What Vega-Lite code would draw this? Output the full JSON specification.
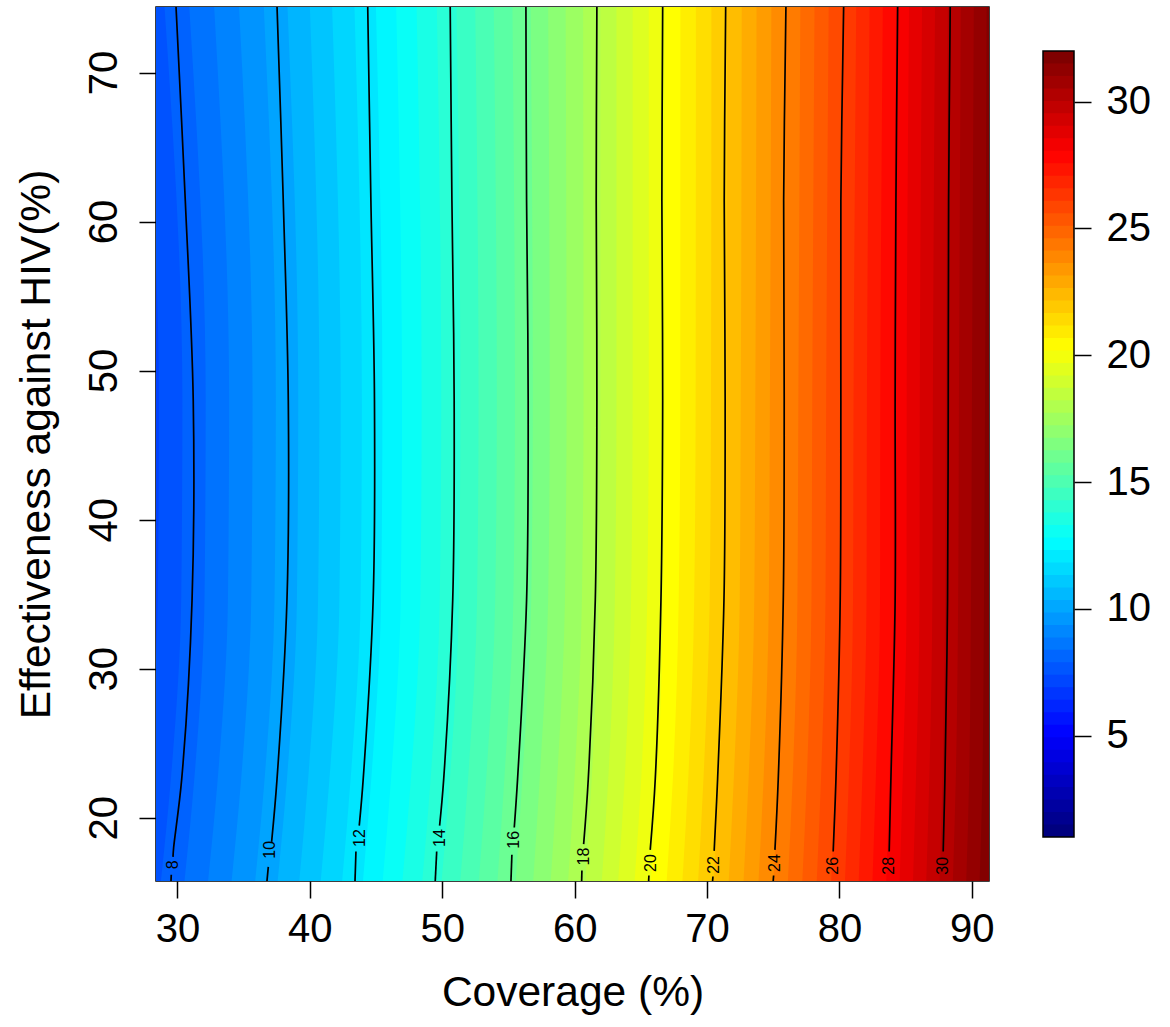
{
"$schema": "https://vega.github.io/schema/vega-lite/v6.json",
"padding": {"left": 14, "top": 6, "right": 0, "bottom": 0},
"background": "white",
"spacing": 47,
"config": {"view": {"stroke": null}, "font": "Liberation Sans"},
"datasets": {
"bands": [
{"L":6.787,"y":74.4,"x":28},{"L":6.787,"y":48,"x":28},{"L":6.787,"y":34.6,"x":28},{"L":6.787,"y":22.6,"x":28},{"L":6.787,"y":15.75,"x":28},
{"L":7.279,"y":74.4,"x":27.14},{"L":7.279,"y":48,"x":28.6},{"L":7.279,"y":34.6,"x":28.51},{"L":7.279,"y":22.6,"x":27.72},{"L":7.279,"y":15.75,"x":26.97},
{"L":7.771,"y":74.4,"x":29.02},{"L":7.771,"y":48,"x":30.37},{"L":7.771,"y":34.6,"x":30.28},{"L":7.771,"y":22.6,"x":29.5},{"L":7.771,"y":15.75,"x":28.75},
{"L":8.263,"y":74.4,"x":30.89},{"L":8.263,"y":48,"x":32.13},{"L":8.263,"y":34.6,"x":32.04},{"L":8.263,"y":22.6,"x":31.27},{"L":8.263,"y":15.75,"x":30.53},
{"L":8.755,"y":74.4,"x":32.77},{"L":8.755,"y":48,"x":33.9},{"L":8.755,"y":34.6,"x":33.81},{"L":8.755,"y":22.6,"x":33.04},{"L":8.755,"y":15.75,"x":32.31},
{"L":9.247,"y":74.4,"x":34.65},{"L":9.247,"y":48,"x":35.67},{"L":9.247,"y":34.6,"x":35.57},{"L":9.247,"y":22.6,"x":34.81},{"L":9.247,"y":15.75,"x":34.09},
{"L":9.739,"y":74.4,"x":36.52},{"L":9.739,"y":48,"x":37.43},{"L":9.739,"y":34.6,"x":37.33},{"L":9.739,"y":22.6,"x":36.58},{"L":9.739,"y":15.75,"x":35.87},
{"L":10.231,"y":74.4,"x":38.31},{"L":10.231,"y":48,"x":39.12},{"L":10.231,"y":34.6,"x":39.02},{"L":10.231,"y":22.6,"x":38.27},{"L":10.231,"y":15.75,"x":37.57},
{"L":10.723,"y":74.4,"x":40.0},{"L":10.723,"y":48,"x":40.72},{"L":10.723,"y":34.6,"x":40.62},{"L":10.723,"y":22.6,"x":39.87},{"L":10.723,"y":15.75,"x":39.2},
{"L":11.215,"y":74.4,"x":41.68},{"L":11.215,"y":48,"x":42.33},{"L":11.215,"y":34.6,"x":42.23},{"L":11.215,"y":22.6,"x":41.48},{"L":11.215,"y":15.75,"x":40.82},
{"L":11.707,"y":74.4,"x":43.37},{"L":11.707,"y":48,"x":43.93},{"L":11.707,"y":34.6,"x":43.83},{"L":11.707,"y":22.6,"x":43.08},{"L":11.707,"y":15.75,"x":42.44},
{"L":12.199,"y":74.4,"x":44.99},{"L":12.199,"y":48,"x":45.48},{"L":12.199,"y":34.6,"x":45.38},{"L":12.199,"y":22.6,"x":44.64},{"L":12.199,"y":15.75,"x":44.01},
{"L":12.691,"y":74.4,"x":46.52},{"L":12.691,"y":48,"x":46.96},{"L":12.691,"y":34.6,"x":46.86},{"L":12.691,"y":22.6,"x":46.13},{"L":12.691,"y":15.75,"x":45.5},
{"L":13.183,"y":74.4,"x":48.06},{"L":13.183,"y":48,"x":48.44},{"L":13.183,"y":34.6,"x":48.34},{"L":13.183,"y":22.6,"x":47.63},{"L":13.183,"y":15.75,"x":46.99},
{"L":13.675,"y":74.4,"x":49.59},{"L":13.675,"y":48,"x":49.92},{"L":13.675,"y":34.6,"x":49.81},{"L":13.675,"y":22.6,"x":49.12},{"L":13.675,"y":15.75,"x":48.49},
{"L":14.167,"y":74.4,"x":51.08},{"L":14.167,"y":48,"x":51.37},{"L":14.167,"y":34.6,"x":51.26},{"L":14.167,"y":22.6,"x":50.58},{"L":14.167,"y":15.75,"x":49.95},
{"L":14.659,"y":74.4,"x":52.49},{"L":14.659,"y":48,"x":52.74},{"L":14.659,"y":34.6,"x":52.63},{"L":14.659,"y":22.6,"x":51.95},{"L":14.659,"y":15.75,"x":51.36},
{"L":15.151,"y":74.4,"x":53.89},{"L":15.151,"y":48,"x":54.12},{"L":15.151,"y":34.6,"x":54.0},{"L":15.151,"y":22.6,"x":53.32},{"L":15.151,"y":15.75,"x":52.76},
{"L":15.643,"y":74.4,"x":55.3},{"L":15.643,"y":48,"x":55.49},{"L":15.643,"y":34.6,"x":55.37},{"L":15.643,"y":22.6,"x":54.69},{"L":15.643,"y":15.75,"x":54.17},
{"L":16.135,"y":74.4,"x":56.68},{"L":16.135,"y":48,"x":56.84},{"L":16.135,"y":34.6,"x":56.72},{"L":16.135,"y":22.6,"x":56.05},{"L":16.135,"y":15.75,"x":55.55},
{"L":16.627,"y":74.4,"x":58.0},{"L":16.627,"y":48,"x":58.12},{"L":16.627,"y":34.6,"x":58.0},{"L":16.627,"y":22.6,"x":57.36},{"L":16.627,"y":15.75,"x":56.87},
{"L":17.119,"y":74.4,"x":59.32},{"L":17.119,"y":48,"x":59.39},{"L":17.119,"y":34.6,"x":59.27},{"L":17.119,"y":22.6,"x":58.68},{"L":17.119,"y":15.75,"x":58.19},
{"L":17.611,"y":74.4,"x":60.64},{"L":17.611,"y":48,"x":60.67},{"L":17.611,"y":34.6,"x":60.55},{"L":17.611,"y":22.6,"x":59.99},{"L":17.611,"y":15.75,"x":59.51},
{"L":18.103,"y":74.4,"x":61.94},{"L":18.103,"y":48,"x":61.94},{"L":18.103,"y":34.6,"x":61.82},{"L":18.103,"y":22.6,"x":61.29},{"L":18.103,"y":15.75,"x":60.81},
{"L":18.595,"y":74.4,"x":63.16},{"L":18.595,"y":48,"x":63.16},{"L":18.595,"y":34.6,"x":63.04},{"L":18.595,"y":22.6,"x":62.54},{"L":18.595,"y":15.75,"x":62.05},
{"L":19.087,"y":74.4,"x":64.38},{"L":19.087,"y":48,"x":64.38},{"L":19.087,"y":34.6,"x":64.26},{"L":19.087,"y":22.6,"x":63.78},{"L":19.087,"y":15.75,"x":63.29},
{"L":19.579,"y":74.4,"x":65.6},{"L":19.579,"y":48,"x":65.6},{"L":19.579,"y":34.6,"x":65.48},{"L":19.579,"y":22.6,"x":65.03},{"L":19.579,"y":15.75,"x":64.53},
{"L":20.071,"y":74.4,"x":66.82},{"L":20.071,"y":48,"x":66.82},{"L":20.071,"y":34.6,"x":66.69},{"L":20.071,"y":22.6,"x":66.26},{"L":20.071,"y":15.75,"x":65.76},
{"L":20.563,"y":74.4,"x":67.99},{"L":20.563,"y":48,"x":67.98},{"L":20.563,"y":34.6,"x":67.86},{"L":20.563,"y":22.6,"x":67.42},{"L":20.563,"y":15.75,"x":66.95},
{"L":21.055,"y":74.4,"x":69.16},{"L":21.055,"y":48,"x":69.14},{"L":21.055,"y":34.6,"x":69.03},{"L":21.055,"y":22.6,"x":68.58},{"L":21.055,"y":15.75,"x":68.14},
{"L":21.547,"y":74.4,"x":70.33},{"L":21.547,"y":48,"x":70.3},{"L":21.547,"y":34.6,"x":70.2},{"L":21.547,"y":22.6,"x":69.73},{"L":21.547,"y":15.75,"x":69.33},
{"L":22.039,"y":74.4,"x":71.5},{"L":22.039,"y":48,"x":71.46},{"L":22.039,"y":34.6,"x":71.37},{"L":22.039,"y":22.6,"x":70.89},{"L":22.039,"y":15.75,"x":70.51},
{"L":22.531,"y":74.4,"x":72.62},{"L":22.531,"y":48,"x":72.55},{"L":22.531,"y":34.6,"x":72.47},{"L":22.531,"y":22.6,"x":72.02},{"L":22.531,"y":15.75,"x":71.64},
{"L":23.023,"y":74.4,"x":73.74},{"L":23.023,"y":48,"x":73.65},{"L":23.023,"y":34.6,"x":73.57},{"L":23.023,"y":22.6,"x":73.14},{"L":23.023,"y":15.75,"x":72.76},
{"L":23.515,"y":74.4,"x":74.86},{"L":23.515,"y":48,"x":74.75},{"L":23.515,"y":34.6,"x":74.67},{"L":23.515,"y":22.6,"x":74.27},{"L":23.515,"y":15.75,"x":73.89},
{"L":24.007,"y":74.4,"x":75.98},{"L":24.007,"y":48,"x":75.85},{"L":24.007,"y":34.6,"x":75.78},{"L":24.007,"y":22.6,"x":75.4},{"L":24.007,"y":15.75,"x":75.02},
{"L":24.499,"y":74.4,"x":77.05},{"L":24.499,"y":48,"x":76.9},{"L":24.499,"y":34.6,"x":76.83},{"L":24.499,"y":22.6,"x":76.47},{"L":24.499,"y":15.75,"x":76.11},
{"L":24.991,"y":74.4,"x":78.12},{"L":24.991,"y":48,"x":77.95},{"L":24.991,"y":34.6,"x":77.89},{"L":24.991,"y":22.6,"x":77.54},{"L":24.991,"y":15.75,"x":77.2},
{"L":25.483,"y":74.4,"x":79.19},{"L":25.483,"y":48,"x":79.0},{"L":25.483,"y":34.6,"x":78.95},{"L":25.483,"y":22.6,"x":78.61},{"L":25.483,"y":15.75,"x":78.29},
{"L":25.975,"y":74.4,"x":80.27},{"L":25.975,"y":48,"x":80.06},{"L":25.975,"y":34.6,"x":80.01},{"L":25.975,"y":22.6,"x":79.69},{"L":25.975,"y":15.75,"x":79.38},
{"L":26.467,"y":74.4,"x":81.27},{"L":26.467,"y":48,"x":81.07},{"L":26.467,"y":34.6,"x":81.03},{"L":26.467,"y":22.6,"x":80.71},{"L":26.467,"y":15.75,"x":80.42},
{"L":26.959,"y":74.4,"x":82.28},{"L":26.959,"y":48,"x":82.08},{"L":26.959,"y":34.6,"x":82.05},{"L":26.959,"y":22.6,"x":81.73},{"L":26.959,"y":15.75,"x":81.46},
{"L":27.451,"y":74.4,"x":83.28},{"L":27.451,"y":48,"x":83.09},{"L":27.451,"y":34.6,"x":83.07},{"L":27.451,"y":22.6,"x":82.75},{"L":27.451,"y":15.75,"x":82.5},
{"L":27.943,"y":74.4,"x":84.28},{"L":27.943,"y":48,"x":84.09},{"L":27.943,"y":34.6,"x":84.09},{"L":27.943,"y":22.6,"x":83.77},{"L":27.943,"y":15.75,"x":83.54},
{"L":28.435,"y":74.4,"x":85.26},{"L":28.435,"y":48,"x":85.08},{"L":28.435,"y":34.6,"x":85.07},{"L":28.435,"y":22.6,"x":84.78},{"L":28.435,"y":15.75,"x":84.55},
{"L":28.927,"y":74.4,"x":86.24},{"L":28.927,"y":48,"x":86.07},{"L":28.927,"y":34.6,"x":86.05},{"L":28.927,"y":22.6,"x":85.78},{"L":28.927,"y":15.75,"x":85.56},
{"L":29.419,"y":74.4,"x":87.22},{"L":29.419,"y":48,"x":87.06},{"L":29.419,"y":34.6,"x":87.02},{"L":29.419,"y":22.6,"x":86.79},{"L":29.419,"y":15.75,"x":86.56},
{"L":29.911,"y":74.4,"x":88.19},{"L":29.911,"y":48,"x":88.04},{"L":29.911,"y":34.6,"x":87.99},{"L":29.911,"y":22.6,"x":87.79},{"L":29.911,"y":15.75,"x":87.57},
{"L":30.403,"y":74.4,"x":89.17},{"L":30.403,"y":48,"x":89.03},{"L":30.403,"y":34.6,"x":88.97},{"L":30.403,"y":22.6,"x":88.79},{"L":30.403,"y":15.75,"x":88.57},
{"L":30.895,"y":74.4,"x":90.15},{"L":30.895,"y":48,"x":90.01},{"L":30.895,"y":34.6,"x":89.94},{"L":30.895,"y":22.6,"x":89.8},{"L":30.895,"y":15.75,"x":89.58},
{"L":31.387,"y":74.4,"x":91.12},{"L":31.387,"y":48,"x":91.0},{"L":31.387,"y":34.6,"x":90.92},{"L":31.387,"y":22.6,"x":90.8},{"L":31.387,"y":15.75,"x":90.59}
],
"lines": [
{"s":"8a","y":74.4,"x":29.89},{"s":"8a","y":61.4,"x":30.59},{"s":"8a","y":48,"x":31.19},{"s":"8a","y":34.6,"x":31.1},{"s":"8a","y":22.6,"x":30.32},{"s":"8a","y":18,"x":29.71},{"s":"8a","y":17.37,"x":29.66},
{"s":"8b","y":16.17,"x":29.53},{"s":"8b","y":15.75,"x":29.51},
{"s":"10a","y":74.4,"x":37.52},{"s":"10a","y":61.4,"x":37.99},{"s":"10a","y":48,"x":38.37},{"s":"10a","y":34.6,"x":38.27},{"s":"10a","y":22.6,"x":37.52},{"s":"10a","y":18.38,"x":37.11},
{"s":"10b","y":16.7,"x":36.86},{"s":"10b","y":15.75,"x":36.76},
{"s":"12a","y":74.4,"x":44.37},{"s":"12a","y":61.4,"x":44.61},{"s":"12a","y":48,"x":44.88},{"s":"12a","y":34.6,"x":44.78},{"s":"12a","y":22.6,"x":44.03},{"s":"12a","y":19.47,"x":43.73},
{"s":"12b","y":17.73,"x":43.48},{"s":"12b","y":15.75,"x":43.41},
{"s":"14a","y":74.4,"x":50.6},{"s":"14a","y":61.4,"x":50.73},{"s":"14a","y":48,"x":50.9},{"s":"14a","y":34.6,"x":50.79},{"s":"14a","y":22.6,"x":50.11},{"s":"14a","y":19.47,"x":49.8},
{"s":"14b","y":17.73,"x":49.58},{"s":"14b","y":15.75,"x":49.47},
{"s":"16a","y":74.4,"x":56.32},{"s":"16a","y":61.4,"x":56.37},{"s":"16a","y":48,"x":56.49},{"s":"16a","y":34.6,"x":56.37},{"s":"16a","y":22.6,"x":55.69},{"s":"16a","y":19.34,"x":55.44},
{"s":"16b","y":17.51,"x":55.26},{"s":"16b","y":15.75,"x":55.19},
{"s":"18a","y":74.4,"x":61.68},{"s":"18a","y":61.4,"x":61.63},{"s":"18a","y":48,"x":61.68},{"s":"18a","y":34.6,"x":61.56},{"s":"18a","y":22.6,"x":61.03},{"s":"18a","y":18.22,"x":60.68},
{"s":"18b","y":16.45,"x":60.55},{"s":"18b","y":15.75,"x":60.53},
{"s":"20a","y":74.4,"x":66.65},{"s":"20a","y":61.4,"x":66.59},{"s":"20a","y":48,"x":66.65},{"s":"20a","y":34.6,"x":66.52},{"s":"20a","y":22.6,"x":66.09},{"s":"20a","y":17.84,"x":65.71},
{"s":"20b","y":16.12,"x":65.61},{"s":"20b","y":15.75,"x":65.59},
{"s":"22a","y":74.4,"x":71.41},{"s":"22a","y":61.4,"x":71.3},{"s":"22a","y":48,"x":71.37},{"s":"22a","y":34.6,"x":71.28},{"s":"22a","y":22.6,"x":70.8},{"s":"22a","y":17.77,"x":70.54},
{"s":"22b","y":16.05,"x":70.45},{"s":"22b","y":15.75,"x":70.42},
{"s":"24a","y":74.4,"x":75.96},{"s":"24a","y":61.4,"x":75.79},{"s":"24a","y":48,"x":75.83},{"s":"24a","y":34.6,"x":75.76},{"s":"24a","y":22.6,"x":75.38},{"s":"24a","y":17.84,"x":75.13},
{"s":"24b","y":16.12,"x":75.03},{"s":"24b","y":15.75,"x":75.0},
{"s":"26a","y":74.4,"x":80.32},{"s":"26a","y":61.4,"x":80.11},{"s":"26a","y":48,"x":80.11},{"s":"26a","y":34.6,"x":80.06},{"s":"26a","y":22.6,"x":79.74},{"s":"26a","y":17.73,"x":79.53},
{"s":"28a","y":74.4,"x":84.4},{"s":"28a","y":61.4,"x":84.27},{"s":"28a","y":48,"x":84.21},{"s":"28a","y":34.6,"x":84.21},{"s":"28a","y":22.6,"x":83.89},{"s":"28a","y":17.73,"x":83.76},
{"s":"30a","y":74.4,"x":88.37},{"s":"30a","y":61.4,"x":88.25},{"s":"30a","y":48,"x":88.22},{"s":"30a","y":34.6,"x":88.17},{"s":"30a","y":22.6,"x":87.97},{"s":"30a","y":17.73,"x":87.84}
],
"labels": [
{"t":"8","x":29.64,"y":16.83},{"t":"10","x":36.99,"y":17.84},{"t":"12","x":43.78,"y":18.63},{"t":"14","x":49.85,"y":18.63},
{"t":"16","x":55.44,"y":18.51},{"t":"18","x":60.72,"y":17.39},{"t":"20","x":65.76,"y":16.95},{"t":"22","x":70.54,"y":16.83},
{"t":"24","x":75.15,"y":16.95},{"t":"26","x":79.49,"y":16.77},{"t":"28","x":83.76,"y":16.77},{"t":"30","x":87.79,"y":16.77}
],
"cbar": [
{"b":1},{"b":1.492},{"b":1.984},{"b":2.476},{"b":2.968},{"b":3.46},{"b":3.952},{"b":4.444},{"b":4.937},{"b":5.429},
{"b":5.921},{"b":6.413},{"b":6.905},{"b":7.397},{"b":7.889},{"b":8.381},{"b":8.873},{"b":9.365},{"b":9.857},{"b":10.349},
{"b":10.841},{"b":11.333},{"b":11.825},{"b":12.317},{"b":12.81},{"b":13.302},{"b":13.794},{"b":14.286},{"b":14.778},{"b":15.27},
{"b":15.762},{"b":16.254},{"b":16.746},{"b":17.238},{"b":17.73},{"b":18.222},{"b":18.714},{"b":19.206},{"b":19.698},{"b":20.19},
{"b":20.683},{"b":21.175},{"b":21.667},{"b":22.159},{"b":22.651},{"b":23.143},{"b":23.635},{"b":24.127},{"b":24.619},{"b":25.111},
{"b":25.603},{"b":26.095},{"b":26.587},{"b":27.079},{"b":27.571},{"b":28.063},{"b":28.556},{"b":29.048},{"b":29.54},{"b":30.032},
{"b":30.524},{"b":31.016},{"b":31.508}
]
},
"hconcat": [
{
"width": 833,
"height": 874,
"view": {"stroke": "black", "strokeWidth": 1.5},
"encoding": {
"x": {"field": "x", "type": "quantitative",
"scale": {"domain": [28.377, 91.3], "nice": false, "zero": false},
"axis": {"values": [30, 40, 50, 60, 70, 80, 90], "title": "Coverage (%)", "domain": false, "grid": false,
"tickSize": 17, "tickWidth": 1.5, "tickColor": "black",
"labelFont": "Liberation Sans", "labelFontSize": 40, "labelColor": "black", "labelPadding": 11, "labelFlush": false, "labelOverlap": false,
"titleFont": "Liberation Sans", "titleFontSize": 42.5, "titleFontWeight": "normal", "titleColor": "black", "titlePadding": 22}},
"y": {"field": "y", "type": "quantitative",
"scale": {"domain": [15.75, 74.4], "nice": false, "zero": false},
"axis": {"values": [20, 30, 40, 50, 60, 70], "title": "Effectiveness against HIV(%)", "domain": false, "grid": false,
"tickSize": 17, "tickWidth": 1.5, "tickColor": "black",
"labelFont": "Liberation Sans", "labelFontSize": 40, "labelColor": "black", "labelPadding": 15, "labelAngle": 270, "labelAlign": "center", "labelBaseline": "bottom", "labelFlush": false, "labelOverlap": false,
"titleFont": "Liberation Sans", "titleFontSize": 42.5, "titleFontWeight": "normal", "titleColor": "black", "titlePadding": 26}}
},
"layer": [
{
"data": {"name": "bands"},
"mark": {"type": "area", "orient": "horizontal", "clip": true, "interpolate": "monotone"},
"encoding": {
"x2": {"datum": 92},
"detail": {"field": "L", "type": "quantitative"},
"color": {"field": "L", "type": "quantitative", "legend": null,
"scale": {"type": "linear", "domain": [1, 4.8135, 8.627, 12.4405, 16.254, 20.0675, 23.881, 27.6945, 31.508],
"range": ["#00007F", "#0000FF", "#007FFF", "#00FFFF", "#7FFF7F", "#FFFF00", "#FF7F00", "#FF0000", "#7F0000"], "interpolate": "rgb"}}
}
},
{
"data": {"name": "lines"},
"mark": {"type": "line", "color": "black", "strokeWidth": 1.7, "interpolate": "catmull-rom", "clip": true},
"encoding": {
"detail": {"field": "s", "type": "nominal"},
"order": {"field": "y", "type": "quantitative"}
}
},
{
"data": {"name": "labels"},
"mark": {"type": "text", "angle": 270, "fontSize": 16, "font": "Liberation Sans", "color": "black", "align": "center", "baseline": "middle"},
"encoding": {"text": {"field": "t", "type": "nominal"}}
}
]
},
{
"width": 31,
"height": 874,
"encoding": {
"x": {"datum": 0, "type": "quantitative", "scale": {"domain": [0, 1], "nice": false, "zero": false}, "axis": null},
"x2": {"datum": 1},
"y": {"field": "b", "type": "quantitative",
"scale": {"domain": [-0.735, 33.735], "nice": false, "zero": false},
"axis": {"orient": "right", "values": [5, 10, 15, 20, 25, 30], "title": null, "domain": false, "grid": false,
"tickSize": 17, "tickWidth": 1.5, "tickColor": "black",
"labelFont": "Liberation Sans", "labelFontSize": 40, "labelColor": "black", "labelPadding": 15, "labelAlign": "left", "labelBaseline": "middle", "labelFlush": false, "labelOverlap": false}},
"y2": {"datum": 32}
},
"layer": [
{
"data": {"name": "cbar"},
"mark": {"type": "rect"},
"encoding": {
"color": {"field": "b", "type": "quantitative", "legend": null,
"scale": {"type": "linear", "domain": [1, 4.8135, 8.627, 12.4405, 16.254, 20.0675, 23.881, 27.6945, 31.508],
"range": ["#00007F", "#0000FF", "#007FFF", "#00FFFF", "#7FFF7F", "#FFFF00", "#FF7F00", "#FF0000", "#7F0000"], "interpolate": "rgb"}}
}
},
{
"data": {"values": [{"b": 1}]},
"mark": {"type": "rect", "fill": "transparent", "stroke": "black", "strokeWidth": 1.5}
}
]
}
]
}
